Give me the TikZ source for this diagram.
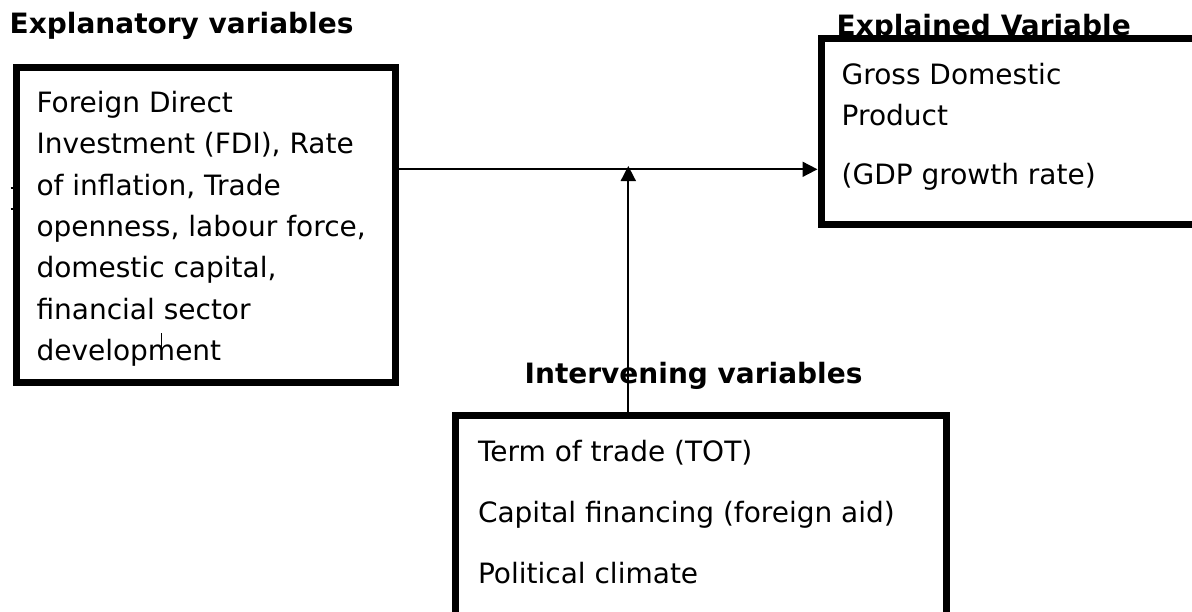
\documentclass[tikz,border=0pt]{standalone}
\usepackage{fontspec}
\setmainfont{DejaVu Sans}
\usetikzlibrary{arrows.meta}
\begin{document}
\begin{tikzpicture}[x=1pt,y=-1pt,
  box/.style={draw=black, line width=7pt, inner sep=0pt, line join=miter},
  conn/.style={draw=black, line width=1.8pt, -{Triangle[length=15pt,width=15pt]}},
  txt/.style={anchor=base west, inner sep=0pt, outer sep=0pt},
  ttl/.style={anchor=base west, inner sep=0pt, font=\bfseries\fontsize{28}{34}\selectfont},
  stray/.style={draw=black, line width=0.9pt}]
\useasboundingbox (0,0) rectangle (1192,611);
\clip (0,0) rectangle (1192,611);

% titles
\node[ttl] (tExpl) at (9.5,33) {Explanatory variables};
\node[ttl] (tExpd) at (836.5,35.5) {Explained Variable};
\node[ttl] (tInt) at (524.5,383) {Intervening variables};

% boxes
\node[box, minimum width=379pt, minimum height=314.5pt] (expl) at (206,224.75) {};
\node[box, minimum width=379pt, minimum height=185.5pt] (expd) at (1010.5,131.25) {};
\node[box, minimum width=491pt, minimum height=214.5pt] (interv) at (701,522.75) {};

% box texts
\node[txt, font=\fontsize{28}{41.4}\selectfont] (explTxt) at (36.5,112.3)
  {\begin{tabular}[t]{@{}l@{}}Foreign Direct\\ Investment (FDI), Rate\\ of inflation, Trade\\ openness, labour force,\\ domestic capital,\\ financial sector\\ development\end{tabular}};
\node[txt, font=\fontsize{28}{41}\selectfont] (expdTxt) at (841.7,84)
  {\begin{tabular}[t]{@{}l@{}}Gross Domestic\\ Product\\[18pt] (GDP growth rate)\end{tabular}};
\node[txt, font=\fontsize{28}{61}\selectfont] (intTxt) at (478,461)
  {\begin{tabular}[t]{@{}l@{}}Term of trade (TOT)\\ Capital financing (foreign aid)\\ Political climate\end{tabular}};

% connectors
\coordinate (hrow) at (0,169.3);
\coordinate (vtip) at (628.3,166);
\draw[conn] (expl.east |- hrow) -- (expd.west |- hrow);
\draw[conn] (interv.north -| vtip) -- (vtip);

% small stray marks
\draw[stray] (161,333) -- (161,360);
\draw[line width=1.6pt] (10.5,188) -- (13.5,188);
\draw[line width=1.6pt] (10.5,209) -- (13.5,209);
\end{tikzpicture}
\end{document}
